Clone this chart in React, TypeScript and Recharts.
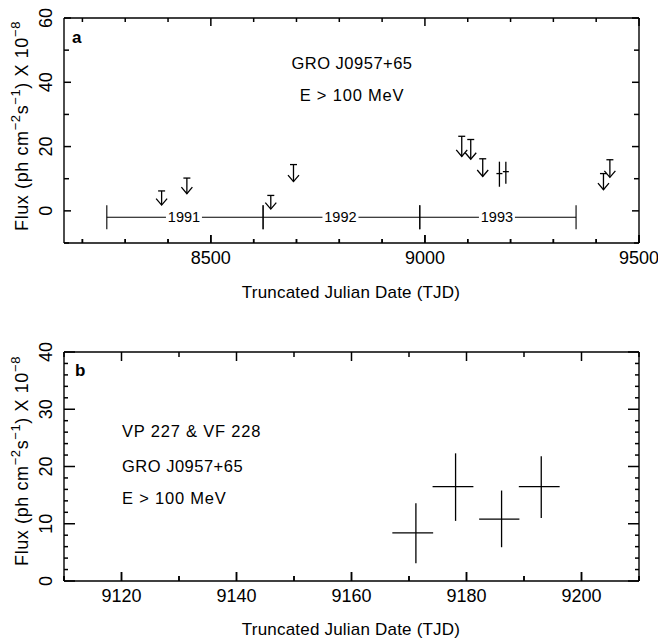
import React from 'react';
import { ScatterChart, Scatter, XAxis, YAxis, ErrorBar } from 'recharts';

const FONT = '"Liberation Sans", Arial, Helvetica, sans-serif';

// ---------- Panel a ----------
const limitTJD = [8385, 8444, 8640, 8693, 9086, 9107, 9135, 9417, 9432];
const limitFlux = [6.2, 10.2, 4.8, 14.4, 23.2, 22.2, 16.2, 11.6, 15.9];
const detTJD = [9174, 9189];
const detTJDHalf = [7, 7];
const detFlux = [11.6, 12.2];
const detFluxLow = [7.5, 8.4];
const detFluxHigh = [15.3, 15.3];
const yearStarts = [8257, 8622, 8988, 9353];
const yearLabels = ['1991', '1992', '1993'];
const timelineFlux = -2;
const aXDomain = [8157, 9500];
const aYDomain = [-10, 60];
const aXTicks = [8200, 8300, 8400, 8500, 8600, 8700, 8800, 8900, 9000, 9100, 9200, 9300, 9400, 9500];
const aYTicks = [-10, 0, 10, 20, 30, 40, 50, 60];

// ---------- Panel b ----------
const bTJD = [9171.2, 9178.1, 9186.1, 9193.0];
const bTJDLow = [9167.1, 9174.1, 9182.2, 9189.1];
const bTJDHigh = [9174.2, 9181.2, 9189.2, 9196.2];
const bFlux = [8.4, 16.5, 10.8, 16.5];
const bFluxLow = [3.1, 10.5, 5.9, 11.0];
const bFluxHigh = [13.6, 22.3, 15.8, 21.8];
const bXDomain = [9110, 9210];
const bYDomain = [0, 40];
const bXTicks = [9110, 9120, 9130, 9140, 9150, 9160, 9170, 9180, 9190, 9200, 9210];
const bYTicks = [0, 2, 4, 6, 8, 10, 12, 14, 16, 18, 20, 22, 24, 26, 28, 30, 32, 34, 36, 38, 40];

// ---------- derived tables ----------
const limitData = limitTJD.map((x, i) => ({ x, y: limitFlux[i] }));
const detData = detTJD.map((x, i) => ({
  x,
  y: detFlux[i],
  xerr: detTJDHalf[i],
  yerr: [detFlux[i] - detFluxLow[i], detFluxHigh[i] - detFlux[i]],
}));
const yearData = yearLabels.map((label, i) => ({
  x: (yearStarts[i] + yearStarts[i + 1]) / 2,
  y: timelineFlux,
  xerr: (yearStarts[i + 1] - yearStarts[i]) / 2,
  label,
}));
const bData = bTJD.map((x, i) => ({
  x,
  y: bFlux[i],
  xerr: [x - bTJDLow[i], bTJDHigh[i] - x],
  yerr: [bFlux[i] - bFluxLow[i], bFluxHigh[i] - bFlux[i]],
}));

const isMult = (v: number, m: number) => Math.abs(v / m - Math.round(v / m)) < 1e-6;
const SW = 1.5;
const TC = '#000';

// bottom axis: inside tick + label
const bottomTick = (majorStep: number, labelStep: number, majorLen: number, minorLen: number) => (props: any) => {
  const { x, y, payload } = props;
  const v = payload.value as number;
  const len = isMult(v, majorStep) ? majorLen : minorLen;
  return (
    <g>
      <path d={`M${x},${y} L${x},${y - len}`} stroke={TC} strokeWidth={SW} fill="none" />
      {isMult(v, labelStep) ? (
        <text x={x} y={y + 21} textAnchor="middle" fontSize={18} fontFamily={FONT} fill="#000">
          {v}
        </text>
      ) : null}
    </g>
  );
};
// left axis: inside ticks on the left edge and the right edge + rotated label
const leftTick = (majorStep: number, labelStep: number, majorLen: number, minorLen: number, plotW: number) => (props: any) => {
  const { x, y, payload } = props;
  const v = payload.value as number;
  const len = isMult(v, majorStep) ? majorLen : minorLen;
  const bx = x - 12;
  const xr = x + plotW;
  return (
    <g>
      <path d={`M${x},${y} L${x + len},${y}`} stroke={TC} strokeWidth={SW} fill="none" />
      <path d={`M${xr},${y} L${xr - len},${y}`} stroke={TC} strokeWidth={SW} fill="none" />
      {isMult(v, labelStep) ? (
        <text
          x={bx}
          y={y}
          transform={`rotate(-90 ${bx} ${y})`}
          textAnchor="middle"
          fontSize={18}
          fontFamily={FONT}
          fill="#000"
        >
          {v}
        </text>
      ) : null}
    </g>
  );
};
// top axis: inside ticks on the top edge and (again) on the bottom edge
const topTicks = (majorStep: number, majorLen: number, minorLen: number, plotH: number) => (props: any) => {
  const { x, y, payload } = props;
  const len = isMult(payload.value, majorStep) ? majorLen : minorLen;
  const yb = y + plotH;
  return (
    <g>
      <path d={`M${x},${y} L${x},${y + len}`} stroke={TC} strokeWidth={SW} fill="none" />
      <path d={`M${x},${yb} L${x},${yb - len}`} stroke={TC} strokeWidth={SW} fill="none" />
    </g>
  );
};

const ArrowShape = (props: any) => {
  const { cx, cy, payload } = props;
  const len = 12 + 0.35 * payload.y;
  const tip = cy + len;
  return (
    <g stroke="#000" strokeWidth={1.3} fill="none">
      <line x1={cx - 3.5} y1={cy} x2={cx + 3.5} y2={cy} />
      <line x1={cx} y1={cy} x2={cx} y2={tip} />
      <polyline points={`${cx - 5.5},${tip - 6.5} ${cx},${tip} ${cx + 5.5},${tip - 6.5}`} />
    </g>
  );
};

const YearShape = (props: any) => {
  const { cx, cy, payload } = props;
  return (
    <g>
      <rect x={cx - 19} y={cy - 7} width={36} height={14} fill="#fff" />
      <text x={cx - 1} y={cy + 5} textAnchor="middle" fontSize={14.5} fontFamily={FONT} fill="#000">
        {payload.label}
      </text>
    </g>
  );
};

const Empty = () => <g />;

const YTitle = ({ x, cy }: { x: number; cy: number }) => (
  <text
    x={x}
    y={cy}
    transform={`rotate(-90 ${x} ${cy})`}
    textAnchor="middle"
    fontSize={18}
    fontFamily={FONT}
    letterSpacing={0.6}
    fill="#000"
  >
    Flux (ph cm
    <tspan dy={-8} fontSize={13}>−2</tspan>
    <tspan dy={8}>s</tspan>
    <tspan dy={-8} fontSize={13}>−1</tspan>
    <tspan dy={8}>) X 10</tspan>
    <tspan dy={-8} fontSize={13}>−8</tspan>
  </text>
);

const XTitle = ({ cx, y }: { cx: number; y: number }) => (
  <text x={cx} y={y} textAnchor="middle" fontSize={17} fontFamily={FONT} letterSpacing={0.2} fill="#000">
    Truncated Julian Date (TJD)
  </text>
);

const annotA = () => (
  <g>
    <XTitle cx={351} y={298} />
    <YTitle x={28} cy={126} />
    <text x={72} y={43} fontSize={17} fontWeight="bold" fontFamily={FONT} fill="#000">
      a
    </text>
    <text x={352} y={68.5} textAnchor="middle" fontSize={16.5} letterSpacing={0.5} fontFamily={FONT} fill="#000">
      GRO J0957+65
    </text>
    <text x={352} y={101} textAnchor="middle" fontSize={16.5} letterSpacing={0.8} fontFamily={FONT} fill="#000">
      E &gt; 100 MeV
    </text>
  </g>
);

const annotB = () => (
  <g>
    <XTitle cx={351} y={315} />
    <YTitle x={28} cy={141} />
    <text x={75} y={56} fontSize={17} fontWeight="bold" fontFamily={FONT} fill="#000">
      b
    </text>
    <text x={122} y={117} fontSize={16.5} letterSpacing={0.8} fontFamily={FONT} fill="#000">
      VP 227 &amp; VF 228
    </text>
    <text x={122} y={152} fontSize={16.5} letterSpacing={0.5} fontFamily={FONT} fill="#000">
      GRO J0957+65
    </text>
    <text x={122} y={184} fontSize={16.5} letterSpacing={0.8} fontFamily={FONT} fill="#000">
      E &gt; 100 MeV
    </text>
  </g>
);

const axisLine = { stroke: '#000', strokeWidth: 1.4 };
const common = { tickSize: 0, tickMargin: 0, tickLine: false, axisLine, interval: 0 as const, allowDataOverflow: true };

const A_PLOT_H = 225;
const B_PLOT_H = 229;
const PLOT_W = 575;

export default function App() {
  return (
    <div style={{ position: 'absolute', left: 0, top: 0, width: 658, height: 639, background: '#fff' }}>
      <ScatterChart width={658} height={320} margin={{ top: 17, right: 18, bottom: 0, left: 0 }}>
        <XAxis xAxisId="b" type="number" dataKey="x" domain={aXDomain} ticks={aXTicks} height={77} {...common} tick={bottomTick(500, 500, 8, 4)} label={annotA} />
        <XAxis xAxisId="t" orientation="top" type="number" dataKey="x" domain={aXDomain} ticks={aXTicks} height={1} {...common} tick={topTicks(500, 8, 4, A_PLOT_H)} />
        <YAxis yAxisId="l" type="number" dataKey="y" domain={aYDomain} ticks={aYTicks} width={64} {...common} tick={leftTick(20, 20, 7, 5, PLOT_W)} />
        <YAxis yAxisId="r" orientation="right" type="number" dataKey="y" domain={aYDomain} ticks={aYTicks} width={1} {...common} tick={false} />
        <Scatter xAxisId="b" yAxisId="l" data={yearData} shape={YearShape} isAnimationActive={false}>
          <ErrorBar dataKey="xerr" direction="x" width={12} stroke="#000" strokeWidth={1.1} />
        </Scatter>
        <Scatter xAxisId="b" yAxisId="l" data={limitData} shape={ArrowShape} isAnimationActive={false} />
        <Scatter xAxisId="b" yAxisId="l" data={detData} shape={Empty} isAnimationActive={false}>
          <ErrorBar dataKey="yerr" direction="y" width={0} stroke="#000" strokeWidth={1.3} />
          <ErrorBar dataKey="xerr" direction="x" width={0} stroke="#000" strokeWidth={1.3} />
        </Scatter>
        <Scatter xAxisId="t" yAxisId="r" data={limitData} shape={Empty} isAnimationActive={false} />
      </ScatterChart>

      <ScatterChart width={658} height={319} margin={{ top: 31, right: 18, bottom: 0, left: 0 }}>
        <XAxis xAxisId="b" type="number" dataKey="x" domain={bXDomain} ticks={bXTicks} height={58} {...common} tick={bottomTick(20, 20, 9, 5)} label={annotB} />
        <XAxis xAxisId="t" orientation="top" type="number" dataKey="x" domain={bXDomain} ticks={bXTicks} height={1} {...common} tick={topTicks(20, 9, 5, B_PLOT_H)} />
        <YAxis yAxisId="l" type="number" dataKey="y" domain={bYDomain} ticks={bYTicks} width={64} {...common} tick={leftTick(10, 10, 11, 4, PLOT_W)} />
        <YAxis yAxisId="r" orientation="right" type="number" dataKey="y" domain={bYDomain} ticks={bYTicks} width={1} {...common} tick={false} />
        <Scatter xAxisId="b" yAxisId="l" data={bData} shape={Empty} isAnimationActive={false}>
          <ErrorBar dataKey="yerr" direction="y" width={0} stroke="#000" strokeWidth={1.3} />
          <ErrorBar dataKey="xerr" direction="x" width={0} stroke="#000" strokeWidth={1.3} />
        </Scatter>
        <Scatter xAxisId="t" yAxisId="r" data={bData} shape={Empty} isAnimationActive={false} />
      </ScatterChart>
    </div>
  );
}
